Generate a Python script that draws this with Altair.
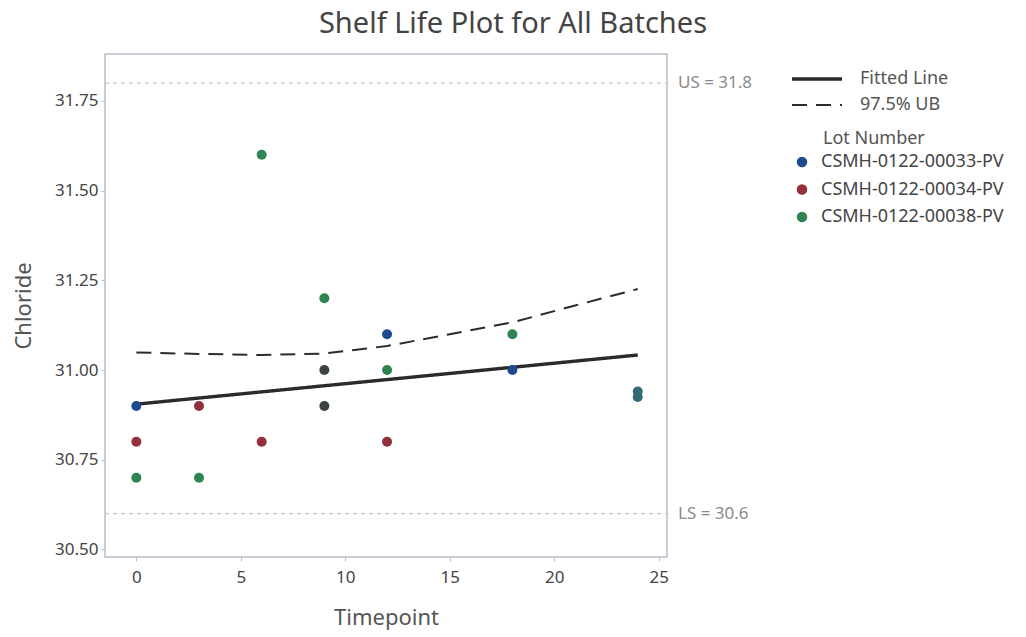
import altair as alt
import pandas as pd

FONT = "Noto Sans"

lots = ["CSMH-0122-00033-PV", "CSMH-0122-00034-PV", "CSMH-0122-00038-PV"]
lot_colors = ["#1f4a8f", "#93303d", "#2e8552"]

# individual observations (time, value, lot index)
pt_time = [0, 0, 0, 3, 3, 6, 6, 9, 12, 12, 12, 18, 18]
pt_value = [30.9, 30.8, 30.7, 30.9, 30.7, 31.6, 30.8, 31.2, 31.1, 31.0, 30.8, 31.0, 31.1]
pt_lot = [0, 1, 2, 1, 2, 2, 1, 2, 0, 2, 1, 0, 2]

# overlapping observations drawn in blended colours
ov_time = [9, 9, 24, 24]
ov_value = [31.0, 30.9, 30.94, 30.925]
ov_color = ["#3d4245", "#3d4245", "#336b75", "#336b75"]

# fitted line and 97.5% upper bound
fit_time = [0, 24]
fit_value = [30.905, 31.042]
ub_time = [0, 3, 6, 9, 12, 15, 18, 21, 24]
ub_value = [31.049, 31.045, 31.042, 31.046, 31.067, 31.100, 31.133, 31.180, 31.226]

line_names = ["Fitted Line", "97.5% UB"]

spec_names = ["US = 31.8", "LS = 30.6"]
spec_values = [31.8, 30.6]

pts = pd.DataFrame({"Timepoint": pt_time, "Chloride": pt_value,
                    "Lot Number": [lots[i] for i in pt_lot]})
ov = pd.DataFrame({"Timepoint": ov_time, "Chloride": ov_value, "c": ov_color})
lines = pd.DataFrame({
    "Timepoint": fit_time + ub_time,
    "Chloride": fit_value + ub_value,
    "Line": [line_names[0]] * len(fit_time) + [line_names[1]] * len(ub_time),
})
specs = pd.DataFrame({"label": spec_names, "Chloride": spec_values})

xscale = alt.Scale(domain=[-1.5, 25.4], nice=False, zero=False)
yscale = alt.Scale(domain=[30.479, 31.881], nice=False, zero=False)

xenc = alt.X("Timepoint:Q", scale=xscale,
             axis=alt.Axis(values=[0, 5, 10, 15, 20, 25], title="Timepoint"))
yenc = alt.Y("Chloride:Q", scale=yscale,
             axis=alt.Axis(values=[30.5, 30.75, 31.0, 31.25, 31.5, 31.75],
                           format=".2f", title="Chloride"))

ref = alt.Chart(specs).mark_rule(color="#c4c4c4", strokeDash=[4, 4], strokeWidth=1.2).encode(
    y=alt.Y("Chloride:Q", scale=yscale),
    x=alt.value(0), x2=alt.value(562),
)
ref_text = alt.Chart(specs).mark_text(align="left", baseline="middle", fontSize=17,
                                      color="#8a8a8a", font=FONT).encode(
    y=alt.Y("Chloride:Q", scale=yscale),
    x=alt.value(573),
    text="label:N",
)

line_layer = alt.Chart(lines).mark_line(color="#2b2b2b").encode(
    x=xenc, y=yenc,
    strokeDash=alt.StrokeDash("Line:N",
        scale=alt.Scale(domain=line_names, range=[[1, 0], [15, 9]]),
        legend=alt.Legend(title=None, orient="none", legendX=685, legendY=16,
                          symbolSize=2500, symbolStrokeWidth=2.5, symbolStrokeColor="#2b2b2b",
                          symbolType="stroke", clipHeight=18, rowPadding=8,
                          labelFontSize=18, labelColor="#555555", labelFont=FONT,
                          labelOffset=16, padding=0)),
    strokeWidth=alt.StrokeWidth("Line:N",
        scale=alt.Scale(domain=line_names, range=[3.4, 2]), legend=None),
)

point_layer = alt.Chart(pts).mark_circle(size=100, opacity=1).encode(
    x=xenc, y=yenc,
    color=alt.Color("Lot Number:N",
        scale=alt.Scale(domain=lots, range=lot_colors),
        legend=alt.Legend(orient="none", legendX=718, legendY=76,
                          symbolType="circle", symbolSize=110, symbolOffset=-30,
                          labelOffset=10,
                          titleFontSize=18, titleFontWeight="normal", titleColor="#555555",
                          titleFont=FONT, labelFontSize=18, labelColor="#444444",
                          labelFont=FONT, rowPadding=9.5, titlePadding=5, padding=0,
                          labelLimit=400)),
)

ov_layer = alt.Chart(ov).mark_circle(size=100, opacity=1).encode(
    x=xenc, y=yenc,
    color=alt.Color("c:N", scale=None),
)

chart = alt.layer(ref, ref_text, line_layer, point_layer, ov_layer).resolve_scale(
    color="independent"
).properties(
    width=562, height=503,
    autosize=alt.AutoSizeParams(type="none"),
    padding={"left": 105, "top": 54, "right": 359, "bottom": 80},
    title=alt.Title("Shelf Life Plot for All Batches", fontSize=29, font=FONT,
                    fontWeight="normal", color="#444444", anchor="middle",
                    dx=127, offset=15),
).configure_view(
    stroke="#b9bdc9", strokeWidth=1.5
).configure_axis(
    grid=False, domain=False, tickColor="#b9bdc9", tickSize=4,
    labelFont=FONT, labelFontSize=17, labelColor="#444444",
    titleFont=FONT, titleFontSize=22, titleFontWeight="normal", titleColor="#555555",
).configure_axisX(titlePadding=22, labelPadding=8).configure_axisY(titlePadding=19, labelPadding=3)

chart.save("out.html", embed_options={"renderer": "svg", "actions": False})
